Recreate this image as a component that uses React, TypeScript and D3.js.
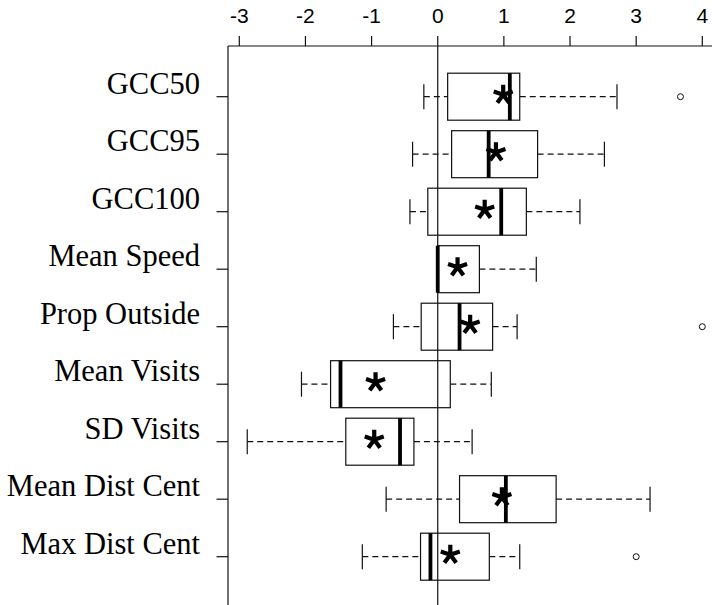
import React from "react";
import * as d3 from "d3";

const categories = [
  "GCC50",
  "GCC95",
  "GCC100",
  "Mean Speed",
  "Prop Outside",
  "Mean Visits",
  "SD Visits",
  "Mean Dist Cent",
  "Max Dist Cent",
];
const whiskerLow = [-0.21, -0.38, -0.42, 0.0, -0.67, -2.06, -2.88, -0.78, -1.14];
const q1 = [0.15, 0.21, -0.15, 0.0, -0.25, -1.62, -1.39, 0.33, -0.26];
const medians = [1.09, 0.77, 0.96, 0.0, 0.33, -1.47, -0.57, 1.03, -0.11];
const q3 = [1.24, 1.51, 1.34, 0.63, 0.83, 0.19, -0.36, 1.79, 0.78];
const whiskerHigh = [2.71, 2.52, 2.15, 1.49, 1.2, 0.81, 0.52, 3.21, 1.24];
const means = [0.99, 0.88, 0.71, 0.3, 0.49, -0.94, -0.96, 0.97, 0.19];
const outliers: number[][] = [[3.67], [], [], [], [4.0], [], [], [], [3.0]];
const xTicks = [-3, -2, -1, 0, 1, 2, 3, 4];

const W = 712;
const H = 605;

function starPath(r: number) {
  let p = "";
  for (let i = 0; i < 5; i++) {
    const a = (-90 + i * 72) * (Math.PI / 180);
    p += `M0,0L${(r * Math.cos(a)).toFixed(2)},${(r * Math.sin(a)).toFixed(2)}`;
  }
  return p;
}

export default function App() {
  const x = d3.scaleLinear().domain([-3, 4]).range([239.3, 702.3]);
  const y = d3.scalePoint<string>().domain(categories).range([96.7, 556.7]);
  const axisY = 46;
  const axisX = 228;
  const half = 23.5;
  const cap = 12.5;
  const star = starPath(10);
  const stroke = "#111";

  return (
    <svg
      width={W}
      height={H}
      style={{ position: "absolute", left: 0, top: 0, background: "#fff" }}
    >
      <rect x={0} y={0} width={W} height={H} fill="#fff" />
      {/* top axis */}
      <line x1={axisX} x2={W} y1={axisY} y2={axisY} stroke={stroke} strokeWidth={1.2} />
      {xTicks.map((t) => (
        <g key={t}>
          <line x1={x(t)} x2={x(t)} y1={axisY - 10} y2={axisY} stroke={stroke} strokeWidth={1.2} />
          <text
            x={x(t)}
            y={23}
            textAnchor="middle"
            fontFamily="'Liberation Sans', Arial, sans-serif"
            fontSize={21}
            fill="#000"
          >
            {t}
          </text>
        </g>
      ))}
      {/* left axis */}
      <line x1={axisX} x2={axisX} y1={axisY} y2={H} stroke={stroke} strokeWidth={1.2} />
      {categories.map((c) => (
        <g key={c}>
          <line x1={axisX - 11.5} x2={axisX} y1={y(c)!} y2={y(c)!} stroke={stroke} strokeWidth={1.2} />
          <text
            x={200}
            y={y(c)! - 3}
            textAnchor="end"
            fontFamily="'Liberation Serif', 'Times New Roman', serif"
            fontSize={30.5}
            fill="#000"
          >
            {c}
          </text>
        </g>
      ))}
      {/* zero line */}
      <line x1={x(0)} x2={x(0)} y1={axisY} y2={H} stroke={stroke} strokeWidth={1.2} />
      {/* boxes */}
      {categories.map((c, i) => {
        const cy = y(c)!;
        return (
          <g key={c}>
            {whiskerLow[i] < q1[i] && (
              <>
                <line
                  x1={x(whiskerLow[i])}
                  x2={x(q1[i])}
                  y1={cy}
                  y2={cy}
                  stroke={stroke}
                  strokeWidth={1.2}
                  strokeDasharray="6,4"
                />
                <line
                  x1={x(whiskerLow[i])}
                  x2={x(whiskerLow[i])}
                  y1={cy - cap}
                  y2={cy + cap}
                  stroke={stroke}
                  strokeWidth={1.2}
                />
              </>
            )}
            <line
              x1={x(q3[i])}
              x2={x(whiskerHigh[i])}
              y1={cy}
              y2={cy}
              stroke={stroke}
              strokeWidth={1.2}
              strokeDasharray="6,4"
            />
            <line
              x1={x(whiskerHigh[i])}
              x2={x(whiskerHigh[i])}
              y1={cy - cap}
              y2={cy + cap}
              stroke={stroke}
              strokeWidth={1.2}
            />
            <rect
              x={x(q1[i])}
              y={cy - half}
              width={x(q3[i]) - x(q1[i])}
              height={2 * half}
              fill="none"
              stroke={stroke}
              strokeWidth={1.2}
            />
            <line
              x1={x(medians[i])}
              x2={x(medians[i])}
              y1={cy - half}
              y2={cy + half}
              stroke="#000"
              strokeWidth={3.8}
            />
            {outliers[i].map((o, j) => (
              <circle key={j} cx={x(o)} cy={cy} r={3} fill="none" stroke={stroke} strokeWidth={1} />
            ))}
            <path
              d={star}
              transform={`translate(${x(means[i])},${cy - 2})`}
              stroke="#000"
              strokeWidth={4.2}
              strokeLinecap="butt"
              fill="none"
            />
          </g>
        );
      })}
    </svg>
  );
}
